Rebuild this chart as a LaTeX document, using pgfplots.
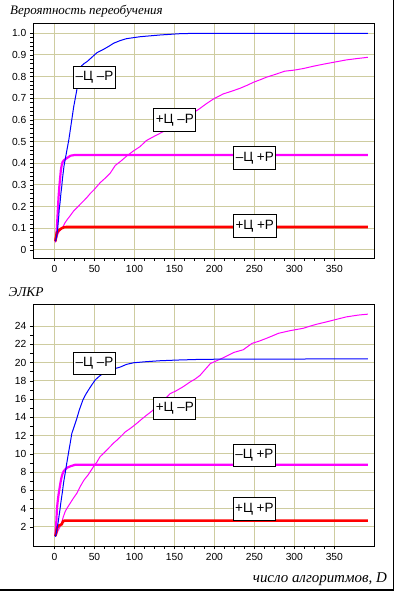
\documentclass[border=0pt]{standalone}
\usepackage{fontspec}
\setmainfont{Liberation Sans}
\newfontfamily\tnr{Liberation Serif}
\usepackage{pgfplots}
\pgfplotsset{compat=1.18}
\definecolor{gridc}{RGB}{206,204,160}
\definecolor{mag}{RGB}{255,0,255}
\definecolor{blu}{RGB}{0,0,255}
\definecolor{rd}{RGB}{255,0,0}
\tikzset{lab/.style={draw=black, line width=0.8bp, fill=white, font=\fontsize{13.5}{14}\selectfont, inner xsep=2bp, inner ysep=1bp, minimum height=22.5bp}}
\pgfplotsset{
  base/.style={
    scale only axis, width=341bp,
    xmin=-26.5, xmax=400,
    xtick={0,50,...,350}, minor x tick num=3,
    grid=major, major grid style={color=gridc, line width=1bp},
    tick align=outside, tick pos=left,
    major tick length=3.5bp, minor tick length=3bp,
    every tick/.style={black, line width=0.6bp},
    axis line style={black, line width=0.9bp},
    ticklabel style={font=\fontsize{10.3}{10}\selectfont},
    /pgf/number format/assume math mode=true,
    clip=true,
  },
}
\begin{document}
\begin{tikzpicture}[x=1bp,y=1bp]
\path[use as bounding box] (0,0) rectangle (396,592);
\draw[black, line width=1.2bp] (0,2) -- (393.5,2) -- (393.5,592);
\node[anchor=base west, font=\tnr\itshape\fontsize{13}{12}\selectfont, inner sep=0pt] at (10,577) {Вероятность переобучения};
\node[anchor=base west, font=\tnr\itshape\fontsize{13.5}{12}\selectfont, inner sep=0pt] at (8.5,295.5) {ЭЛКР};
\node[anchor=base east, font=\tnr\itshape\fontsize{15}{12}\selectfont, inner sep=0pt] at (387,9) {число алгоритмов, \textit{D}};

\begin{axis}[base, at={(33.3bp,334bp)}, anchor=south west, height=234.7bp,
  ymin=-0.037, ymax=1.046,
  ytick={0,0.1,...,1.0}, minor y tick num=4,
  yticklabels={0,0.1,0.2,0.3,0.4,0.5,0.6,0.7,0.8,0.9,1.0},
  xticklabels={0,50,100,150,200,250,300,350}]
\addplot[mag, line width=1bp] coordinates {(1,0.035)(2,0.045)(3,0.06)(4,0.07)(5,0.08)(7,0.09)(9,0.1)(11,0.11)(13,0.125)(15.5,0.138)(20,0.16)(24,0.18)(28,0.195)(32,0.21)(36,0.225)(40,0.24)(44.6,0.26)(50,0.28)(57,0.31)(63,0.33)(69.6,0.354)(76,0.39)(83,0.41)(90.5,0.434)(98,0.455)(107,0.477)(115,0.505)(125,0.525)(136,0.546)(150,0.58)(165,0.615)(180,0.648)(190,0.675)(199,0.697)(211,0.72)(222,0.733)(232,0.746)(241,0.76)(249,0.774)(257,0.785)(265,0.797)(276,0.81)(288,0.825)(300,0.83)(311,0.837)(324,0.848)(336,0.857)(349,0.866)(365,0.877)(380,0.884)(392,0.889)};
\addplot[mag, line width=2.2bp] coordinates {(1,0.04)(2,0.06)(3,0.1)(4,0.17)(5,0.24)(6,0.29)(7,0.33)(8,0.37)(9,0.39)(10,0.405)(12,0.415)(14,0.42)(16,0.425)(18,0.43)(20,0.435)(25,0.438)(392,0.438)};
\addplot[rd, line width=2.6bp] coordinates {(1,0.04)(2,0.06)(3,0.08)(4,0.085)(5,0.09)(7,0.095)(9,0.1)(12,0.105)(15,0.106)(392,0.106)};
\addplot[blu, line width=1bp] coordinates {(1,0.04)(2,0.05)(3,0.07)(4,0.1)(5,0.14)(6,0.19)(7,0.22)(8,0.26)(9,0.29)(10,0.33)(11,0.36)(12,0.39)(13,0.41)(14,0.43)(15,0.45)(16,0.47)(17,0.49)(18,0.51)(20,0.56)(22,0.61)(24,0.66)(26,0.7)(28,0.74)(30,0.78)(32,0.82)(34,0.85)(37,0.86)(41,0.87)(47,0.89)(53,0.91)(61,0.925)(68,0.94)(74,0.954)(82,0.966)(90,0.975)(107,0.984)(132,0.992)(157,0.998)(180,1.0)(392,1.0)};
\node[lab] at (axis cs:50,0.796) {–Ц –Р};
\node[lab] at (axis cs:150.5,0.6) {+Ц –Р};
\node[lab] at (axis cs:250.5,0.425) {–Ц +Р};
\node[lab] at (axis cs:250.5,0.11) {+Ц +Р};
\end{axis}

\begin{axis}[base, at={(33.3bp,46bp)}, anchor=south west, height=241.7bp,
  ymin=-0.08, ymax=26.38,
  ytick={2,4,...,24}, minor y tick num=1,
  yticklabels={2,4,6,8,10,12,14,16,18,20,22,24},
  xticklabels={0,50,100,150,200,250,300,350}]
\addplot[mag, line width=1bp] coordinates {(1,1.0)(2,1.1)(3,1.3)(4,1.5)(5,1.7)(7,2.03)(9,2.5)(11,3.1)(13.4,3.7)(16,4.1)(19.6,4.6)(24,5.2)(28,5.7)(32,6.4)(36.6,7.1)(42,7.7)(48.8,8.6)(53,9.1)(57,9.7)(63,10.2)(69.6,10.8)(74,11.2)(78,11.5)(84,12.0)(88.4,12.4)(95,12.8)(103,13.35)(109,13.8)(115.5,14.26)(122,14.7)(130,15.3)(137,15.9)(144.6,16.6)(152,16.9)(161,17.36)(170,17.9)(176,18.2)(182,18.6)(188,19.2)(195,19.9)(207,20.36)(215,20.7)(224,21.1)(236,21.4)(247,22.1)(256,22.35)(265,22.65)(272,22.9)(280,23.2)(295,23.5)(311,23.75)(320,24.0)(328,24.2)(340,24.45)(349,24.65)(358,24.85)(365,25.0)(380,25.2)(392,25.3)};
\addplot[mag, line width=2.2bp] coordinates {(1,1.0)(2,2.0)(3,3.9)(4,4.8)(5,5.5)(6,6.05)(7,6.6)(8,7.1)(9,7.5)(10,7.8)(11.5,8.1)(13.4,8.3)(16,8.5)(20,8.65)(26,8.82)(392,8.82)};
\addplot[rd, line width=2.6bp] coordinates {(1,1.0)(2,1.3)(3,1.8)(4,2.03)(5,2.15)(7,2.2)(9,2.3)(11,2.66)(13,2.69)(392,2.69)};
\addplot[blu, line width=1bp] coordinates {(1,0.94)(2,1.2)(3,1.7)(4,2.2)(5,2.77)(6,3.4)(7,4.0)(8,4.7)(9,5.3)(10,5.9)(11,6.6)(12,7.2)(13.4,7.9)(15,8.8)(17.5,10.1)(19.5,11.1)(21.7,12.25)(25,13.1)(28,13.9)(31,14.8)(35.5,15.9)(39,16.5)(42.5,17)(47,17.6)(51,18.1)(56,18.5)(62,18.9)(70,19.2)(82,19.5)(90,19.8)(99,19.98)(115,20.1)(132,20.2)(155,20.28)(182,20.35)(220,20.38)(392,20.4)};
\node[lab] at (axis cs:50,19.9) {–Ц –Р};
\node[lab] at (axis cs:150.5,15.0) {+Ц –Р};
\node[lab] at (axis cs:250,9.83) {–Ц +Р};
\node[lab] at (axis cs:250,3.97) {+Ц +Р};
\end{axis}
\end{tikzpicture}
\end{document}
